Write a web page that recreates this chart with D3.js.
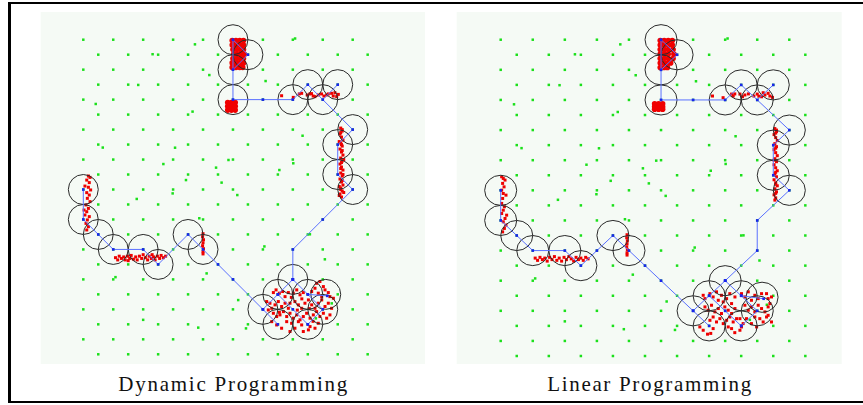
<!DOCTYPE html>
<html><head><meta charset="utf-8">
<script src="https://cdn.jsdelivr.net/npm/d3@7"></script>
<style>body{margin:0;background:#fff}svg{display:block}</style>
</head><body>
<script>
// ---------- DATA (world units: grid column u, grid row v) ----------
const titles = ["Dynamic Programming", "Linear Programming"];
const gridRows = [0,1,2,3,4,5,6,7,8,9,10,11,12,13,14,15,16,17,18,19,20,21];
const evenCols = [0,2,4,6,8,10,12,14,16,18];
const oddCols  = [1,3,5,7,9,11,13,15,17,19];
const extraLandmarks = [[7.46,0.31],[14.15,-0.08],[4.63,0.97],[8.42,2.36],[3.67,3.02],[12.18,2.76],[0.83,4.29],
  [7.3,4.8],[14.65,6.41],[1.3,7.2],[6.13,7.21],[5.35,8.3],[8.87,8.54],[9.7,8.03],[14.03,8.25],[13.1,8.7],
  [6.86,9.37],[9.24,9.54],[5.97,10.26],[10.29,10.37],[3.57,10.63],[7.75,11.92],[15.14,12.99],[12.1,13.8],
  [16.14,14.66],[8.24,15.6],[2.15,15.85],[10.35,17.38],[4.0,18.7],[7.68,19.22],[10.87,19.27],[16.6,17.6],[15.54,18.6]];

// sensing circles (centres)
const circlesDP = [[10,0],[11,1],[10,2],[10,4],[14,4],[15,3],[16,4],[17,3],[18,6],[17,7],[17,9],[18,10],
  [14,16],[13,17],[15,17],[16.2,17],[12,18],[16,18],[13,19],[15,19],[8,14],[7,13],[5,15],[4,14],[2,14],[1,13],[0,12],[0,10]];
const circlesLP = [[10,0],[11,1],[10,2],[10,4],[14,4],[15,3],[16,4],[17,3],[18,6],[17,7],[17,9],[18,10],
  [14,16],[13,17],[15,17],[16.3,17.1],[12,18],[16,18],[13,19],[15,19],[8,14],[7,13],[5,15],[4,14],[2,14],[1,13],[0,12],[0,10]];

// estimated path (polylines)
const pathDP = [
  [[10,2],[11,1],[10,0],[10,4],[12,4],[14,4],[15,3],[18,6],[17,7],[17,9],[18,10],[16,12],[14,14],[14,16]],
  [[16,4],[17,3]],
  [[14,16],[13,17],[12,18],[13,19]],
  [[13,17],[14,18],[15,19]],
  [[14,16],[15,17],[16.3,17.1]],
  [[15,17],[16,18],[15,19]],
  [[12,18],[10,16],[9,15],[8,14],[7,13],[5,15],[4,14],[2,14],[1,13],[0,12],[0,10]]
];
const pathLP = [
  [[10,2],[11,1],[10,0],[10,4],[12,4],[14,4],[15,3],[18,6],[17,7],[17,9],[18,10],[16,12],[16,14],[14,16]],
  [[16,4],[17,3]],
  [[14,16],[13,17],[12,18],[13,19]],
  [[13,17],[14,18],[15,19]],
  [[14,16],[15,17],[16.4,17.2]],
  [[15,17],[16,18],[15,19]],
  [[12,18],[10,16],[9,15],[8,14],[7,13],[6,14],[5,15],[4,14],[2,14],[1,13],[0,12],[0,10]]
];

// particles: dense blobs (bigger dots)
const blobDP = [[9.95,0.05],[10.2,0.05],[10.45,0.05],[10.7,0.05],[9.95,0.35],[10.2,0.35],[10.45,0.35],[10.7,0.35],
  [10.0,0.65],[10.25,0.65],[10.5,0.65],[10.7,0.65],[10.05,0.95],[10.3,0.95],[10.55,0.95],[10.75,0.95],
  [10.0,1.25],[10.25,1.25],[10.5,1.25],[10.7,1.25],[9.95,1.55],[10.2,1.55],[10.45,1.55],[10.7,1.55],
  [9.95,1.85],[10.2,1.85],[10.45,1.85],[10.65,1.85],
  [9.65,4.2],[9.9,4.2],[10.15,4.2],[9.65,4.45],[9.9,4.45],[10.15,4.45],[9.65,4.7],[9.9,4.7],[10.15,4.7]];
const blobLP = [[9.95,0.05],[10.2,0.05],[10.45,0.05],[10.7,0.05],[9.95,0.35],[10.2,0.35],[10.45,0.35],[10.7,0.35],
  [9.95,0.65],[10.2,0.65],[10.45,0.65],[10.75,0.65],[9.95,0.95],[10.2,0.95],[10.45,0.95],[10.8,0.95],
  [9.95,1.25],[10.2,1.25],[10.45,1.25],[10.75,1.25],[9.95,1.55],[10.2,1.55],[10.45,1.55],[10.6,1.55],
  [9.95,1.85],[10.2,1.85],[10.4,1.85],
  [9.6,4.25],[9.85,4.25],[10.1,4.25],[9.6,4.45],[9.85,4.45],[10.1,4.45],[9.6,4.62],[9.85,4.62],[10.1,4.62]];

// particles: scattered
const partDP = [
  // top-right row
  [13.25,3.74],[14.03,3.85],[14.43,3.62],[14.59,3.58],[14.96,3.69],[15.14,3.62],[15.36,3.76],[15.7,3.69],[15.92,3.62],
  [16.08,3.76],[16.26,3.69],[16.59,3.58],[16.7,3.76],[16.81,3.54],[16.93,3.8],[17.04,3.65],[15.25,3.6],[15.48,3.8],[16.37,3.62],
  // right vertical streak
  [17.2,5.9],[17.3,6.1],[17.15,6.3],[17.25,6.5],[17.35,6.7],[17.2,6.9],[17.3,7.1],[17.15,7.3],[17.25,7.5],[17.35,7.7],
  [17.2,7.9],[17.3,8.1],[17.15,8.3],[17.25,8.5],[17.35,8.7],[17.2,8.9],[17.3,9.1],[17.15,9.3],[17.25,9.5],[17.35,9.7],
  [17.2,9.9],[17.3,10.1],[17.15,10.3],[17.25,10.5],[17.1,9.8],[17.4,8.0],[17.1,6.8],[17.4,10.2],[17.1,10.4],[17.3,6.0],
  [17.2,6.2],[17.3,7.4],[17.2,8.6],[17.3,9.4],[17.2,10.0],[17.25,7.0],[17.25,8.2],[17.35,9.0],
  // bottom cluster
  [12.7,16.88],[12.88,16.7],[13.1,16.92],[13.32,16.81],[13.48,17.15],[13.7,16.88],[14.03,16.92],[14.26,16.7],[14.48,17.03],
  [14.7,16.88],[15.26,16.81],[15.48,16.59],[15.7,16.92],[15.93,17.15],[16.15,16.7],[16.37,16.88],[16.48,17.15],[16.71,17.26],
  [15.59,16.26],[15.81,16.14],[16.04,16.48],[12.25,17.48],[12.47,17.59],[12.59,17.93],[12.81,17.7],[13.03,17.48],[13.25,17.81],
  [13.48,17.59],[13.7,17.93],[13.81,17.59],[14.14,17.48],[14.37,17.7],[14.59,17.93],[14.81,17.59],[15.04,17.37],[15.26,17.7],
  [15.48,17.93],[15.7,17.59],[15.93,17.37],[16.15,17.81],[16.37,17.59],[16.59,17.93],[12.36,18.04],[12.7,18.26],[12.92,18.48],
  [13.14,18.37],[13.37,18.15],[13.59,18.48],[13.81,18.26],[14.03,18.59],[14.26,18.37],[14.48,18.7],[14.7,18.48],[14.92,18.26],
  [15.15,18.59],[15.37,18.37],[15.59,18.15],[15.81,18.48],[16.04,18.26],[16.26,18.59],[16.48,18.37],[12.59,18.82],[12.92,19.04],
  [13.25,19.26],[13.59,18.82],[13.92,18.93],[14.14,19.26],[14.37,18.82],[14.59,19.04],[15.15,19.15],[15.48,19.26],[15.7,18.93],
  [15.04,19.37],[14.7,19.48],[13.81,19.48],[13.9,17.2],[14.3,18.05],[15.1,17.95],[13.1,18.2],[14.6,17.3],[15.35,18.8],
  // left vertical
  [0.34,9.1],[0.45,9.19],[0.23,9.37],[0.4,9.54],[0.11,9.77],[0.34,9.85],[0.49,10.03],[0.23,10.21],[0.4,10.37],[0.27,10.59],
  [0.45,10.81],[0.18,11.03],[0.34,11.26],[0.23,11.48],[0.11,11.7],[0.4,11.81],[0.27,12.03],[0.18,12.26],[0.34,12.48],[0.23,12.7],[0.05,11.37],
  // bottom-left horizontal band
  [2.15,14.55],[2.3,14.7],[2.4,14.45],[2.55,14.6],[2.7,14.5],[2.8,14.7],[2.95,14.45],[3.1,14.6],[3.2,14.4],[3.35,14.65],
  [3.5,14.5],[3.6,14.7],[3.75,14.45],[3.9,14.6],[4.0,14.35],[4.15,14.55],[4.3,14.7],[4.4,14.45],[4.55,14.6],[4.7,14.5],
  [4.8,14.7],[4.95,14.45],[5.1,14.6],[5.2,14.4],[5.35,14.55],[5.5,14.45],[3.0,14.75],[4.6,14.35],
  // short vertical streak
  [8.0,12.95],[7.97,13.15],[8.03,13.35],[8.0,13.55],[7.97,13.75],[8.03,13.95],[8.0,14.15],[8.0,14.3]
];
const partLP = [
  // top-right row
  [13.21,3.74],[13.87,3.85],[14.4,3.61],[14.5,3.74],[14.6,3.6],[14.92,3.61],[15.08,3.79],[15.23,3.67],[15.45,3.6],[15.79,3.74],
  [16.0,3.61],[16.1,3.75],[16.27,3.79],[16.37,3.52],[16.48,3.67],[16.68,3.56],[16.79,3.74],[16.95,3.83],
  // right vertical streak
  [17.1,5.9],[17.2,6.1],[17.05,6.3],[17.15,6.5],[17.25,6.7],[17.1,6.9],[17.2,7.1],[17.05,7.3],[17.15,7.5],[17.25,7.7],
  [17.1,7.9],[17.2,8.1],[17.05,8.3],[17.15,8.5],[17.25,8.7],[17.1,8.9],[17.2,9.1],[17.05,9.3],[17.15,9.5],[17.25,9.7],
  [17.1,9.9],[17.2,10.1],[17.05,10.3],[17.15,10.5],[17.1,10.65],[17.2,6.0],[17.05,8.0],
  [17.15,6.2],[17.15,7.2],[17.15,8.8],[17.15,9.6],[17.15,10.2],
  // bottom cluster
  [12.63,16.97],[12.74,17.19],[13.05,16.86],[13.25,17.08],[13.46,16.74],[13.57,17.3],[13.77,16.97],[13.88,17.41],[14.09,17.19],
  [14.29,16.86],[14.4,17.52],[14.61,17.08],[12.74,17.74],[12.94,17.96],[13.15,17.63],[13.36,18.07],[13.57,17.85],[13.77,18.18],
  [13.98,17.74],[14.19,17.96],[14.4,18.18],[14.61,17.85],[13.05,18.63],[13.25,18.41],[13.46,18.74],[13.67,18.52],[13.88,18.85],
  [14.09,18.63],[14.29,18.41],[14.5,18.74],[14.71,18.52],[15.02,16.86],[15.23,17.08],[15.44,16.74],[15.64,17.3],[15.85,16.97],
  [16.06,17.19],[16.27,16.86],[16.58,16.86],[16.68,17.19],[16.89,17.08],[15.23,17.63],[15.44,17.96],[15.64,17.74],[15.85,18.07],
  [16.06,17.63],[16.27,17.85],[16.48,18.07],[16.68,17.74],[16.79,17.52],[14.92,18.52],[15.12,18.85],[15.33,18.52],[15.64,18.85],
  [15.85,18.41],[16.16,18.52],[16.37,18.74],[16.58,18.41],[12.42,19.07],[12.63,19.29],[14.19,19.07],[14.4,19.18],[14.92,19.29],
  [15.02,19.07],[16.68,18.3],[16.89,18.74],[13.25,19.18],[15.96,19.07],[12.9,19.55],[13.1,19.5],[14.6,19.45],
  // left vertical
  [0.06,9.1],[0.16,9.21],[0.27,9.32],[0.12,9.54],[0.21,9.77],[0.06,9.99],[0.16,10.21],[0.33,10.32],[0.12,10.54],[0.06,10.87],
  [0.23,11.09],[0.16,11.32],[0.06,11.54],[0.37,11.65],[0.27,11.87],[0.16,12.09],[0.33,12.31],[0.23,12.53],[0.12,12.76],
  // bottom-left horizontal band
  [2.15,14.5],[2.3,14.65],[2.45,14.45],[2.6,14.6],[2.75,14.5],[2.9,14.7],[3.05,14.45],[3.2,14.6],[3.35,14.4],[3.5,14.65],
  [3.65,14.5],[3.8,14.7],[3.95,14.45],[4.1,14.6],[4.25,14.4],[4.4,14.55],[4.55,14.7],[4.7,14.45],[4.85,14.6],[5.0,14.5],
  [5.15,14.65],[5.3,14.45],[5.45,14.55],
  // short vertical streak
  [7.88,12.95],[7.86,13.15],[7.9,13.35],[7.88,13.55],[7.86,13.75],[7.9,13.95],[7.88,14.15],[7.88,14.3]
];

// ---------- LAYOUT ----------
const W = 863, H = 405;
const panels = [
  {title: titles[0], box:[40.7,12,425,364], xr:[83.3,352.7], yr:[39.7,354.3], circles:circlesDP, path:pathDP, blob:blobDP, parts:partDP},
  {title: titles[1], box:[456.7,12,841.7,364], xr:[500.7,789.3], yr:[39.7,356.0], circles:circlesLP, path:pathLP, blob:blobLP, parts:partLP}
];

const svg = d3.select("body").append("svg").attr("width", W).attr("height", H);
svg.append("rect").attr("width", W).attr("height", H).attr("fill", "#fff");

const landmarks = [];
gridRows.forEach(r => (r % 2 === 0 ? evenCols : oddCols).forEach(c => landmarks.push([c, r])));
extraLandmarks.forEach(p => landmarks.push(p));

panels.forEach(p => {
  const x = d3.scaleLinear().domain([0, 18]).range(p.xr);
  const y = d3.scaleLinear().domain([0, 21]).range(p.yr);
  const g = svg.append("g");
  const [x0, y0, x1, y1] = p.box;
  g.append("rect").attr("x", x0).attr("y", y0).attr("width", x1 - x0).attr("height", y1 - y0).attr("fill", "#f5faf5");

  g.selectAll("rect.lm").data(landmarks).join("rect").attr("class", "lm")
    .attr("x", d => x(d[0]) - 1.25).attr("y", d => y(d[1]) - 1.25).attr("width", 2.5).attr("height", 2.5)
    .attr("fill", "#1be01b");

  g.selectAll("circle.blob").data(p.blob).join("circle").attr("class", "blob")
    .attr("cx", d => x(d[0])).attr("cy", d => y(d[1])).attr("r", 2.8).attr("fill", "#f00000");
  g.selectAll("rect.pt").data(p.parts).join("rect").attr("class", "pt")
    .attr("x", d => x(d[0]) - 1.5).attr("y", d => y(d[1]) - 1.5).attr("width", 3).attr("height", 3)
    .attr("fill", "#ee0000");

  const rx = x(1) - x(0), ry = y(1) - y(0);
  g.selectAll("ellipse").data(p.circles).join("ellipse")
    .attr("cx", d => x(d[0])).attr("cy", d => y(d[1])).attr("rx", rx).attr("ry", ry)
    .attr("fill", "none").attr("stroke", "#2a2a2a").attr("stroke-width", 1);

  const line = d3.line().x(d => x(d[0])).y(d => y(d[1]));
  g.selectAll("path.tr").data(p.path).join("path").attr("class", "tr")
    .attr("d", line).attr("fill", "none").attr("stroke", "#5a70ff").attr("stroke-width", 1);
  const nodes = p.path.flat();
  g.selectAll("rect.nd").data(nodes).join("rect").attr("class", "nd")
    .attr("x", d => x(d[0]) - 1.3).attr("y", d => y(d[1]) - 1.3).attr("width", 2.6).attr("height", 2.6)
    .attr("fill", "#1a22ee");

  const tw = p.title === titles[0] ? 229 : 204;
  g.append("text").attr("x", (x0 + x1) / 2).attr("y", 391).attr("text-anchor", "middle")
    .attr("font-family", "'Liberation Serif', 'DejaVu Serif', serif").attr("font-size", 21)
    .attr("textLength", tw).attr("lengthAdjust", "spacing").attr("fill", "#111").text(p.title);
});

// frame
svg.append("rect").attr("x", 8).attr("y", 2).attr("width", 3).attr("height", 401).attr("fill", "#000");
svg.append("rect").attr("x", 8).attr("y", 2).attr("width", W - 8).attr("height", 2).attr("fill", "#000");
svg.append("rect").attr("x", 8).attr("y", 401).attr("width", W - 8).attr("height", 2).attr("fill", "#000");
</script>
</body></html>
